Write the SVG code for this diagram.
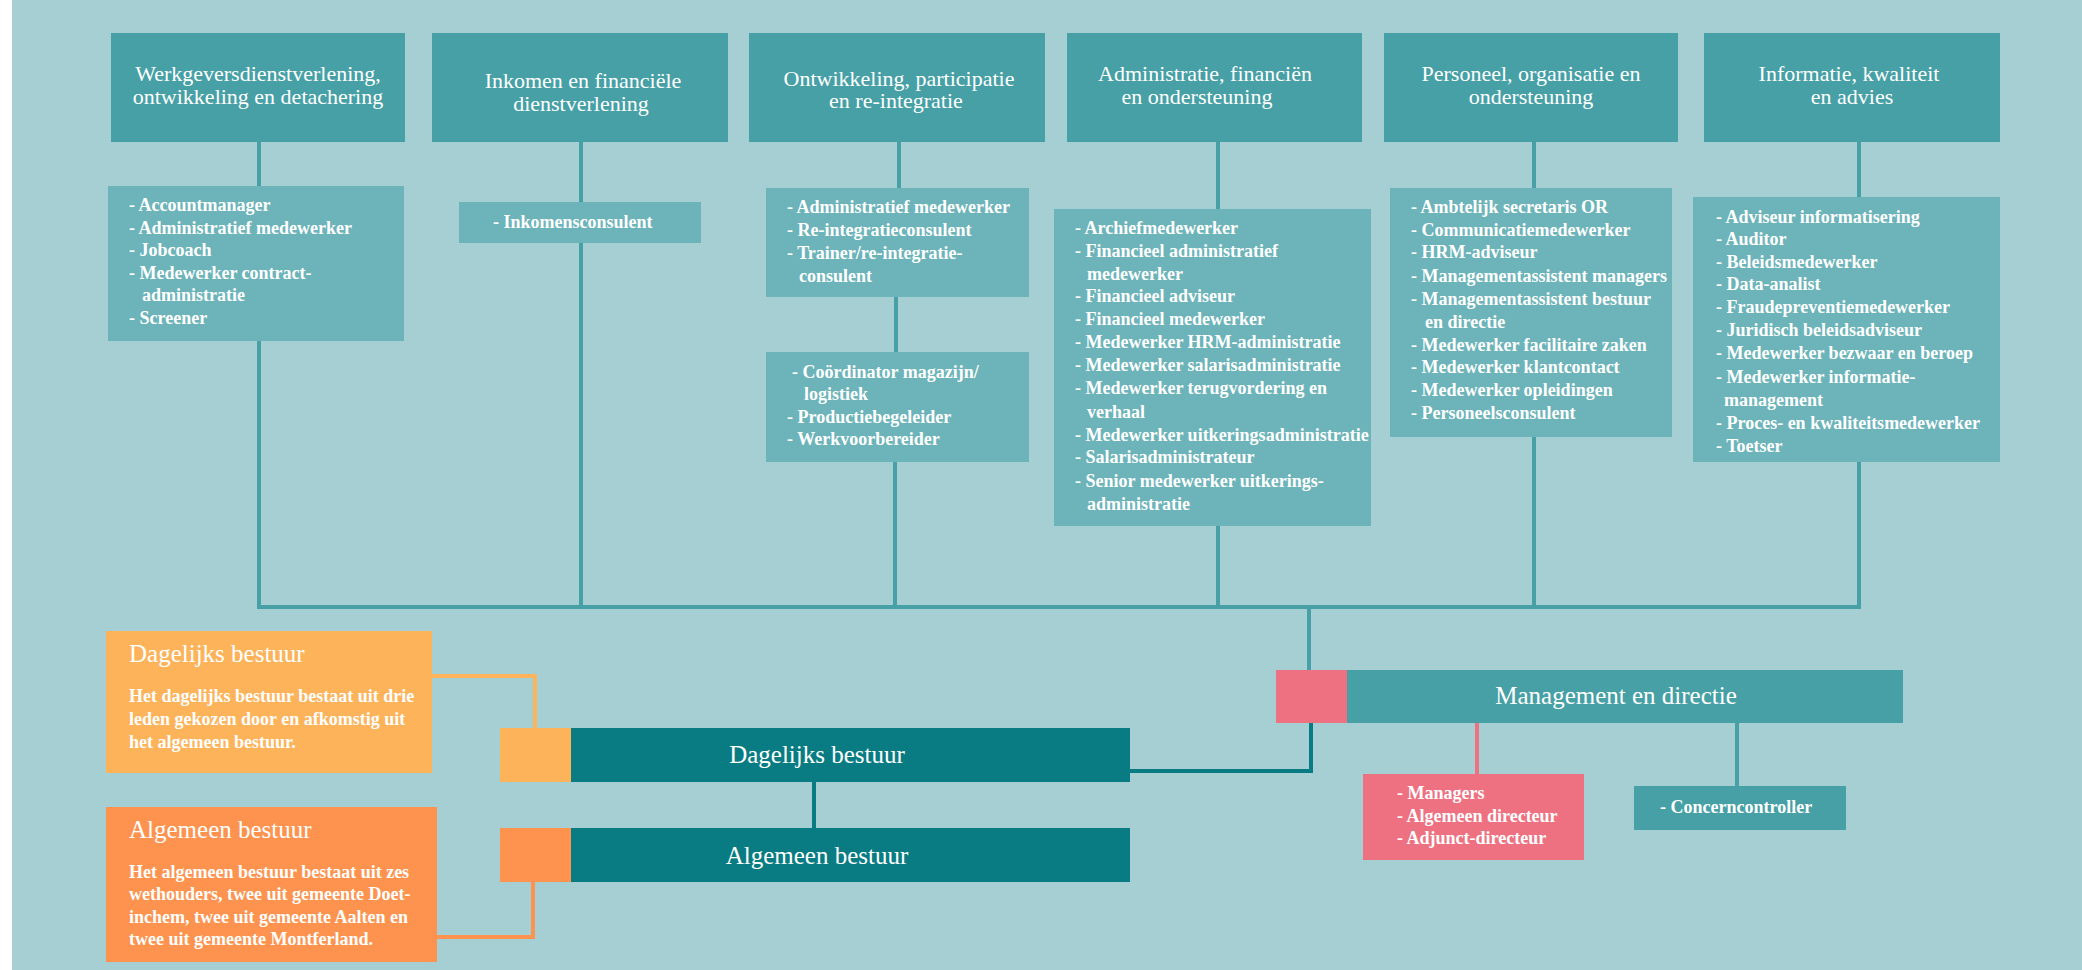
<svg xmlns="http://www.w3.org/2000/svg" width="2082" height="970" viewBox="0 0 2082 970">
<style>
.hdr{fill:#46A0A5}
.lst{fill:#6CB4B9}
.dark{fill:#087C82}
.pink{fill:#EE7181}
.or1{fill:#FDB35A}
.or2{fill:#FD934E}
text{font-family:"Liberation Serif","Times New Roman",serif;fill:#FFFFFF}
.ht{font-size:22px;text-anchor:middle}
.lt{font-size:18px;font-weight:bold}
.bt{font-size:25px;text-anchor:middle}
.at{font-size:25px}
.con{fill:none;stroke:#46A0A5;stroke-width:4}
.cond{fill:none;stroke:#087C82;stroke-width:4}
.conp{fill:none;stroke:#EE7181;stroke-width:4}
.cono1{fill:none;stroke:#FDB35A;stroke-width:4}
.cono2{fill:none;stroke:#FD934E;stroke-width:4}
</style>
<rect x="0" y="0" width="2082" height="970" fill="#A5CFD3"/>
<rect x="0" y="0" width="12" height="970" fill="#FFFFFF"/>
<g id="connectors">
<path class="con" d="M259 142V607M581 142V607M899 142V190M896 297V354M895 462V607M1218 142V607M1534 142V607M1859 142V607M257 607H1861M1309 607V672"/>
<path class="cond" d="M1311 722V771H1128M814 780V830"/>
<path class="conp" d="M1477 722V776"/>
<path class="con" d="M1737 722V788"/>
<path class="cono1" d="M432 676H535V730"/>
<path class="cono2" d="M533 880V937H435"/>
</g>
<g id="n1">
<rect class="hdr" x="111" y="33" width="294" height="109"/>
<text class="ht" x="258" y="81">Werkgeversdienstverlening,</text>
<text class="ht" x="258" y="104">ontwikkeling en detachering</text>
</g>
<g id="n1l">
<rect class="lst" x="108" y="186" width="296" height="155"/>
<text class="lt" x="129" y="211">- Accountmanager</text>
<text class="lt" x="129" y="234">- Administratief medewerker</text>
<text class="lt" x="129" y="256">- Jobcoach</text>
<text class="lt" x="129" y="279">- Medewerker contract-</text>
<text class="lt" x="142" y="301">administratie</text>
<text class="lt" x="129" y="324">- Screener</text>
</g>
<g id="n2">
<rect class="hdr" x="432" y="33" width="296" height="109"/>
<text class="ht" x="583" y="88">Inkomen en financiële</text>
<text class="ht" x="581" y="111">dienstverlening</text>
</g>
<g id="n2l">
<rect class="lst" x="459" y="202" width="242" height="41"/>
<text class="lt" x="493" y="228">- Inkomensconsulent</text>
</g>
<g id="n3">
<rect class="hdr" x="749" y="33" width="296" height="109"/>
<text class="ht" x="899" y="86">Ontwikkeling, participatie</text>
<text class="ht" x="896" y="108">en re-integratie</text>
</g>
<g id="n3l1">
<rect class="lst" x="766" y="188" width="263" height="109"/>
<text class="lt" x="787" y="213">- Administratief medewerker</text>
<text class="lt" x="787" y="236">- Re-integratieconsulent</text>
<text class="lt" x="787" y="259">- Trainer/re-integratie-</text>
<text class="lt" x="799" y="282">consulent</text>
</g>
<g id="n3l2">
<rect class="lst" x="766" y="352" width="263" height="110"/>
<text class="lt" x="792" y="378">- Coördinator magazijn/</text>
<text class="lt" x="804" y="400">logistiek</text>
<text class="lt" x="787" y="423">- Productiebegeleider</text>
<text class="lt" x="787" y="445">- Werkvoorbereider</text>
</g>
<g id="n4">
<rect class="hdr" x="1067" y="33" width="295" height="109"/>
<text class="ht" x="1205" y="81">Administratie, financiën</text>
<text class="ht" x="1197" y="104">en ondersteuning</text>
</g>
<g id="n4l">
<rect class="lst" x="1054" y="209" width="317" height="317"/>
<text class="lt" x="1075" y="234">- Archiefmedewerker</text>
<text class="lt" x="1075" y="257">- Financieel administratief</text>
<text class="lt" x="1087" y="280">medewerker</text>
<text class="lt" x="1075" y="302">- Financieel adviseur</text>
<text class="lt" x="1075" y="325">- Financieel medewerker</text>
<text class="lt" x="1075" y="348">- Medewerker HRM-administratie</text>
<text class="lt" x="1075" y="371">- Medewerker salarisadministratie</text>
<text class="lt" x="1075" y="394">- Medewerker terugvordering en</text>
<text class="lt" x="1087" y="418">verhaal</text>
<text class="lt" x="1075" y="441">- Medewerker uitkeringsadministratie</text>
<text class="lt" x="1075" y="463">- Salarisadministrateur</text>
<text class="lt" x="1075" y="487">- Senior medewerker uitkerings-</text>
<text class="lt" x="1087" y="510">administratie</text>
</g>
<g id="n5">
<rect class="hdr" x="1384" y="33" width="294" height="109"/>
<text class="ht" x="1531" y="81">Personeel, organisatie en</text>
<text class="ht" x="1531" y="104">ondersteuning</text>
</g>
<g id="n5l">
<rect class="lst" x="1390" y="188" width="282" height="249"/>
<text class="lt" x="1411" y="213">- Ambtelijk secretaris OR</text>
<text class="lt" x="1411" y="236">- Communicatiemedewerker</text>
<text class="lt" x="1411" y="258">- HRM-adviseur</text>
<text class="lt" x="1411" y="282">- Managementassistent managers</text>
<text class="lt" x="1411" y="305">- Managementassistent bestuur</text>
<text class="lt" x="1425" y="328">en directie</text>
<text class="lt" x="1411" y="351">- Medewerker facilitaire zaken</text>
<text class="lt" x="1411" y="373">- Medewerker klantcontact</text>
<text class="lt" x="1411" y="396">- Medewerker opleidingen</text>
<text class="lt" x="1411" y="419">- Personeelsconsulent</text>
</g>
<g id="n6">
<rect class="hdr" x="1704" y="33" width="296" height="109"/>
<text class="ht" x="1849" y="81">Informatie, kwaliteit</text>
<text class="ht" x="1852" y="104">en advies</text>
</g>
<g id="n6l">
<rect class="lst" x="1693" y="197" width="307" height="265"/>
<text class="lt" x="1716" y="223">- Adviseur informatisering</text>
<text class="lt" x="1716" y="245">- Auditor</text>
<text class="lt" x="1716" y="268">- Beleidsmedewerker</text>
<text class="lt" x="1716" y="290">- Data-analist</text>
<text class="lt" x="1716" y="313">- Fraudepreventiemedewerker</text>
<text class="lt" x="1716" y="336">- Juridisch beleidsadviseur</text>
<text class="lt" x="1716" y="359">- Medewerker bezwaar en beroep</text>
<text class="lt" x="1716" y="383">- Medewerker informatie-</text>
<text class="lt" x="1724" y="406">management</text>
<text class="lt" x="1716" y="429">- Proces- en kwaliteitsmedewerker</text>
<text class="lt" x="1716" y="452">- Toetser</text>
</g>
<g id="management">
<rect class="pink" x="1276" y="670" width="71" height="53"/>
<rect class="hdr" x="1347" y="670" width="556" height="53"/>
<text class="bt" x="1616" y="704">Management en directie</text>
</g>
<g id="managers">
<rect class="pink" x="1363" y="774" width="221" height="86"/>
<text class="lt" x="1397" y="799">- Managers</text>
<text class="lt" x="1397" y="822">- Algemeen directeur</text>
<text class="lt" x="1397" y="844">- Adjunct-directeur</text>
</g>
<g id="concern">
<rect class="hdr" x="1634" y="786" width="212" height="44"/>
<text class="lt" x="1660" y="813">- Concerncontroller</text>
</g>
<g id="db">
<rect class="or1" x="500" y="728" width="71" height="54"/>
<rect class="dark" x="571" y="728" width="559" height="54"/>
<text class="bt" x="817" y="763">Dagelijks bestuur</text>
</g>
<g id="ab">
<rect class="or2" x="500" y="828" width="71" height="54"/>
<rect class="dark" x="571" y="828" width="559" height="54"/>
<text class="bt" x="817" y="864">Algemeen bestuur</text>
</g>
<g id="db-note">
<rect class="or1" x="106" y="631" width="326" height="142"/>
<text class="at" x="129" y="662">Dagelijks bestuur</text>
<text class="lt" x="129" y="702">Het dagelijks bestuur bestaat uit drie</text>
<text class="lt" x="129" y="725">leden gekozen door en afkomstig uit</text>
<text class="lt" x="129" y="748">het algemeen bestuur.</text>
</g>
<g id="ab-note">
<rect class="or2" x="106" y="807" width="331" height="155"/>
<text class="at" x="129" y="838">Algemeen bestuur</text>
<text class="lt" x="129" y="878">Het algemeen bestuur bestaat uit zes</text>
<text class="lt" x="129" y="900">wethouders, twee uit gemeente Doet-</text>
<text class="lt" x="129" y="923">inchem, twee uit gemeente Aalten en</text>
<text class="lt" x="129" y="945">twee uit gemeente Montferland.</text>
</g>
</svg>
